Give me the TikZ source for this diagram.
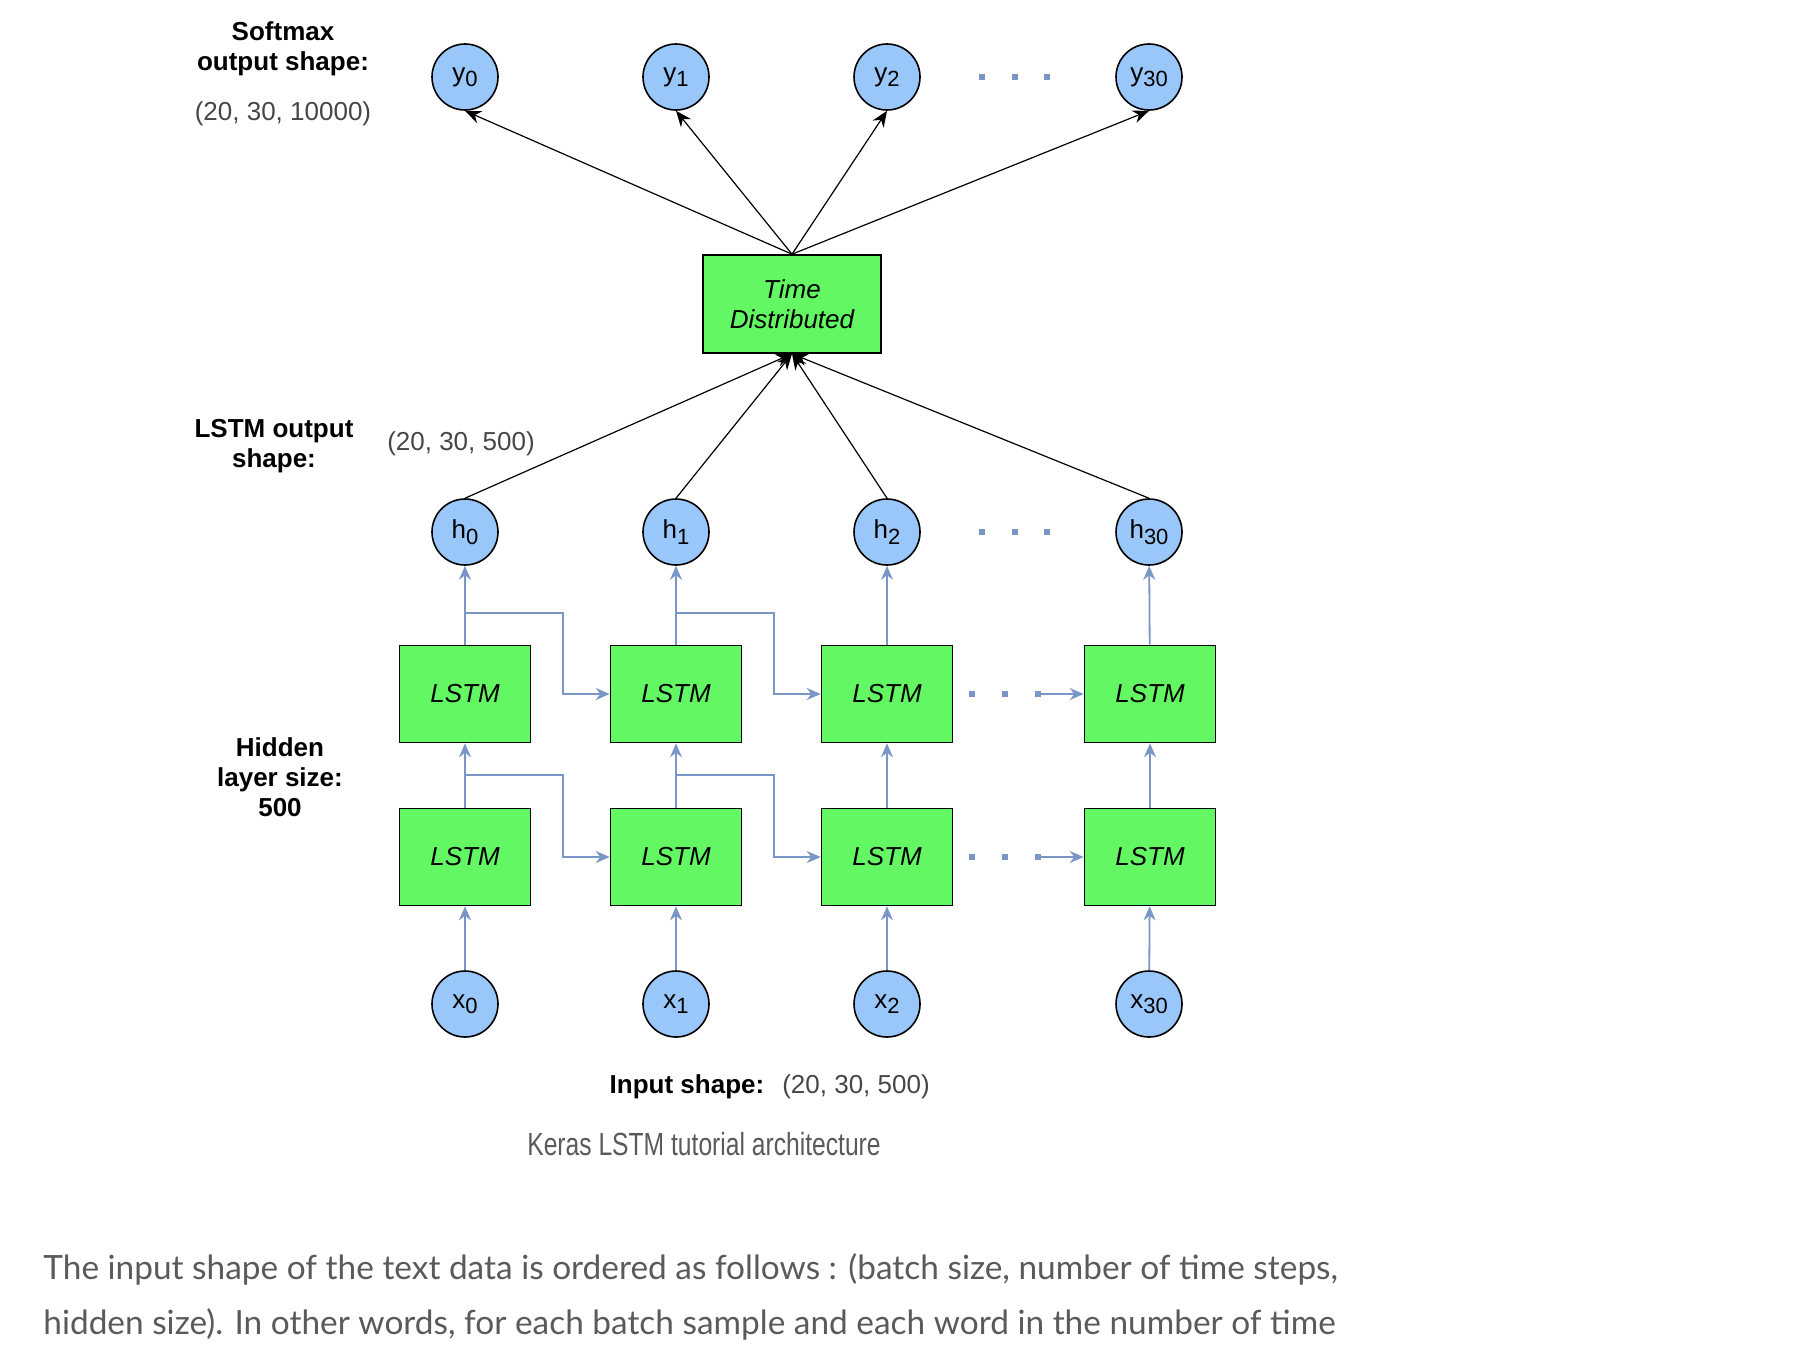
\documentclass[tikz,border=0pt]{standalone}
\usepackage{fontspec}
\setmainfont{Liberation Sans}
\newfontfamily\captionfont[FakeStretch=0.77]{Liberation Sans}
\newfontfamily\bodyfont{Lato}
\usepackage{xcolor}
\usetikzlibrary{arrows.meta,positioning}

\definecolor{lstmgreen}{RGB}{100,247,100}
\definecolor{nodeblue}{RGB}{153,199,249}
\definecolor{flowblue}{RGB}{122,150,198}
\definecolor{shapegray}{RGB}{70,70,70}
\definecolor{textgray}{RGB}{90,90,90}

\newcommand{\lowidx}[1]{\raisebox{-0.4ex}{\fontsize{11}{11}\selectfont #1}}

\tikzset{
    unit/.style={circle, draw, thick, fill=nodeblue, minimum size=33pt, inner sep=0pt, font=\fontsize{13}{15}\selectfont},
    cell/.style={rectangle, draw, thick, fill=lstmgreen, minimum width=65.5pt, minimum height=48.5pt, font=\fontsize{13}{15}\selectfont\itshape},
    gap/.style={rectangle, fill=flowblue, minimum size=3pt, inner sep=0pt},
    caption/.style={align=center, font=\fontsize{13}{15}\selectfont\bfseries},
    shapetext/.style={text=shapegray, font=\fontsize{13}{15}\selectfont},
    flow/.style={-{Stealth[length=7pt,width=6pt]}, draw=flowblue, color=flowblue, line width=0.9pt},
    link/.style={-{Stealth[length=8pt,width=6.5pt]}, line width=0.6pt}
}

\begin{document}
\begin{tikzpicture}[x=0.5pt, y=-0.5pt]
        \useasboundingbox (0,0) rectangle (1813,1360);

        % Text Nodes (without boxes)
        \node[caption] (softmaxlabel) at (283,49) {Softmax\\output shape:};
        \node[shapetext] (softmaxshape) at (283,114) {(20, 30, 10000)};
        \node[caption] (lstmlabel) at (274,446) {LSTM output\\shape:};
        \node[shapetext] (lstmshape) at (461,444) {(20, 30, 500)};
        \node[caption] (hiddenlabel) at (280,777) {Hidden\\layer size:\\500};
        \node[caption] (inputlabel) at (687,1087) {Input shape:};
        \node[shapetext] (inputshape) at (856,1087) {(20, 30, 500)};
        \node[text=textgray, font=\captionfont\fontsize{16}{18}\selectfont] (figcaption) at (704,1144) {Keras LSTM tutorial architecture};
        \node[anchor=base west, inner sep=0pt, text=textgray, font=\bodyfont\fontsize{16.7}{20}\selectfont] (bodyone) at (43,1279) {The input shape of the text data is ordered as follows : (batch size, number of time steps,};
        \node[anchor=base west, inner sep=0pt, text=textgray, font=\bodyfont\fontsize{16.7}{20}\selectfont] (bodytwo) at (43,1334) {hidden size). In other words, for each batch sample and each word in the number of time};

        % Output nodes
        \node[unit] (y0) at (465,77) {y\lowidx{0}};
        \node[unit] (y1) at (676,77) {y\lowidx{1}};
        \node[unit] (y2) at (887,77) {y\lowidx{2}};
        \node[unit] (y30) at (1149,77) {y\lowidx{30}};
        \node[gap] (ydotA) at (982,77) {};
        \node[gap] (ydotB) at (1015,77) {};
        \node[gap] (ydotC) at (1047,77) {};

        % Time distributed layer
        \node[cell, minimum width=89pt, minimum height=49pt, align=center] (timedist) at (792,304) {Time\\Distributed};

        % Hidden states
        \node[unit] (h0) at (465,532) {h\lowidx{0}};
        \node[unit] (h1) at (676,532) {h\lowidx{1}};
        \node[unit] (h2) at (887,532) {h\lowidx{2}};
        \node[unit] (h30) at (1149,532) {h\lowidx{30}};
        \node[gap] (hdotA) at (982,532) {};
        \node[gap] (hdotB) at (1015,532) {};
        \node[gap] (hdotC) at (1047,532) {};

        % LSTM cells
        \node[cell] (lstmA1) at (465,694) {LSTM};
        \node[cell] (lstmA2) at (676,694) {LSTM};
        \node[cell] (lstmA3) at (887,694) {LSTM};
        \node[cell] (lstmA4) at (1150,694) {LSTM};
        \node[gap] (adotA) at (972,694) {};
        \node[gap] (adotB) at (1005,694) {};
        \node[gap] (adotC) at (1038,694) {};
        \node[cell] (lstmB1) at (465,857) {LSTM};
        \node[cell] (lstmB2) at (676,857) {LSTM};
        \node[cell] (lstmB3) at (887,857) {LSTM};
        \node[cell] (lstmB4) at (1150,857) {LSTM};
        \node[gap] (bdotA) at (972,857) {};
        \node[gap] (bdotB) at (1005,857) {};
        \node[gap] (bdotC) at (1038,857) {};

        % Inputs
        \node[unit] (x0) at (465,1004) {x\lowidx{0}};
        \node[unit] (x1) at (676,1004) {x\lowidx{1}};
        \node[unit] (x2) at (887,1004) {x\lowidx{2}};
        \node[unit] (x30) at (1149,1004) {x\lowidx{30}};

        % Arrows
        \draw[link] (timedist.north) -- (y0.south);
        \draw[link] (timedist.north) -- (y1.south);
        \draw[link] (timedist.north) -- (y2.south);
        \draw[link] (timedist.north) -- (y30.south);
        \draw[link] (h0.north) -- (timedist.south);
        \draw[link] (h1.north) -- (timedist.south);
        \draw[link] (h2.north) -- (timedist.south);
        \draw[link] (h30.north) -- (timedist.south);

        \draw[flow] (x0) -- (lstmB1);
        \draw[flow] (x1) -- (lstmB2);
        \draw[flow] (x2) -- (lstmB3);
        \draw[flow] (x30) -- (lstmB4);
        \draw[flow] (lstmB1) -- (lstmA1);
        \draw[flow] (lstmB2) -- (lstmA2);
        \draw[flow] (lstmB3) -- (lstmA3);
        \draw[flow] (lstmB4) -- (lstmA4);
        \draw[flow] (lstmA1) -- (h0);
        \draw[flow] (lstmA2) -- (h1);
        \draw[flow] (lstmA3) -- (h2);
        \draw[flow] (lstmA4) -- (h30);

        \draw[flow] (lstmA1.north) ++(0,-32) -- ++(98,0) |- (lstmA2.west);
        \draw[flow] (lstmA2.north) ++(0,-32) -- ++(98,0) |- (lstmA3.west);
        \draw[flow] (lstmB1.north) ++(0,-33) -- ++(98,0) |- (lstmB2.west);
        \draw[flow] (lstmB2.north) ++(0,-33) -- ++(98,0) |- (lstmB3.west);
        \draw[flow] (adotC) -- (lstmA4.west);
        \draw[flow] (bdotC) -- (lstmB4.west);

    \end{tikzpicture}
\end{document}
